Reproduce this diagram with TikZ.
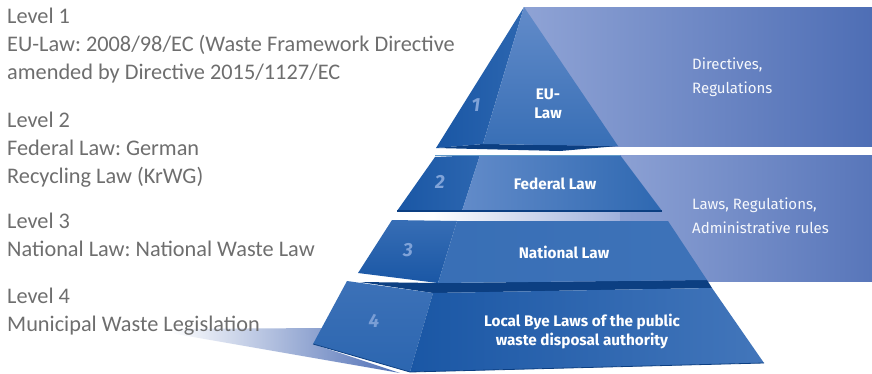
\documentclass[tikz,border=0pt]{standalone}
\usepackage{fontspec}
\setmainfont{Carlito}
\newfontfamily\tierfont{Fira Sans}
\usetikzlibrary{positioning}
\frenchspacing
\definecolor{textgray}{HTML}{6E6E6E}
\definecolor{panellight}{HTML}{8FA3D5}
\definecolor{paneldark}{HTML}{4E6EB5}
\definecolor{sidedark}{HTML}{1A57A5}
\definecolor{sidemid}{HTML}{2C66B0}
\definecolor{frontlight}{HTML}{628BC9}
\definecolor{frontdark}{HTML}{2E68B1}
\definecolor{bandblue}{HTML}{0C3F82}
\definecolor{numblue}{HTML}{80A3D8}
\def\tieroneside{(524,7) -- (436,148) -- (483,144) -- cycle}
\def\tieronefront{(524,7) -- (483,144) -- (618,146) -- cycle}
\def\tiertwoside{(435,157) -- (480,155) -- (462,211) -- (397,211) -- cycle}
\def\tiertwofront{(480,155) -- (620,155) -- (662,211) -- (462,211) -- cycle}
\def\tierthreeside{(392,220) -- (457,221) -- (438,283) -- (358,273) -- cycle}
\def\tierthreefront{(457,221) -- (668,221) -- (707,280) -- (438,283) -- cycle}
\def\tierfourside{(347,281) -- (433,293) -- (410,372) -- (313,344) -- cycle}
\def\tierfourfront{(433,293) -- (712,288) -- (764,363) -- (410,372) -- cycle}

\begin{document}
\begin{tikzpicture}[x=1pt,y=-1pt,
    leveltext/.style={anchor=base west,align=left,text=textgray,inner sep=0pt,
      font=\fontsize{22.3}{28}\selectfont},
    tierlabel/.style={text=white,align=center,inner sep=0pt,
      font=\tierfont\bfseries\fontsize{15.3}{19}\selectfont},
    levelnum/.style={text=numblue,inner sep=0pt,
      font=\tierfont\bfseries\itshape\fontsize{19}{19}\selectfont},
    paneltext/.style={anchor=west,align=left,text=white!92!panellight,inner sep=0pt,
      font=\tierfont\fontsize{15}{24}\selectfont}]
  \useasboundingbox (0,0) rectangle (872,373);

  %background panels
  \shade[left color=panellight,right color=paneldark] (524,7) rectangle (872,146);
  \shade[left color=white,right color=panellight!85!white] (433,155) rectangle (620,281);
  \shade[left color=panellight!95!paneldark,right color=paneldark!85!panellight] (620,155) rectangle (872,281);
  \shade[left color=white,right color=paneldark] (170,329) -- (323,328) -- (313,344) -- (400,373) -- (170,333) -- cycle;

  %tier 1
  \fill[bandblue] (436,148) -- (483,144) -- (618,146) -- (560,151) -- cycle;
  \shade[left color=sidedark,right color=sidemid] \tieroneside;
  \shade[top color=frontlight,bottom color=frontdark!80!frontlight] \tieronefront;

  %tier 2
  \shade[left color=sidedark,right color=sidemid] \tiertwoside;
  \shade[left color=frontlight,right color=frontdark] \tiertwofront;
  \draw[cyan!30!frontlight,line width=0.8pt] (435,155.5) -- (620,155.5);
  \draw[bandblue,line width=1.2pt] (397,211) -- (662,211);

  %tier 3
  \fill[bandblue] (360,282) -- (438,283) -- (707,280) -- (712,288) -- (433,293) -- cycle;
  \shade[top color=sidemid!80!frontlight,bottom color=sidedark] \tierthreeside;
  \shade[left color=frontdark!80!frontlight,right color=frontdark!70!frontlight] \tierthreefront;

  %tier 4
  \shade[top color=sidemid!70!frontlight,bottom color=sidemid] \tierfourside;
  \shade[left color=sidedark,right color=frontdark!60!frontlight] \tierfourfront;
  \draw[bandblue,line width=0.8pt] (313,344) -- (410,372) -- (764,363);

  %labels on the pyramid
  \node[tierlabel] (eulaw) at (548,104) {EU-\\Law};
  \node[tierlabel] (federal) at (555,184) {Federal Law};
  \node[tierlabel] (national) at (564,252) {National Law};
  \node[tierlabel] (local) at (582,331) {Local Bye Laws of the public\\waste disposal authority};
  \node[levelnum] (numone) at (476,105) {1};
  \node[levelnum] (numtwo) at (440,182) {2};
  \node[levelnum] (numthree) at (408,250) {3};
  \node[levelnum,text=numblue!80!frontlight] (numfour) at (374,321) {4};

  \node[paneltext] (directives) at (692,77) {Directives,\\Regulations};
  \node[paneltext] (laws) at (692,216) {Laws, Regulations,\\Administrative rules};

  %level descriptions (anchored at the last line)
  \node[leveltext] (lvlone) at (7,79) {Level 1\\EU-Law: 2008/98/EC (Waste Framework Directive\\amended by Directive 2015/1127/EC};
  \node[leveltext] (lvltwo) at (7,183) {Level 2\\Federal Law: German\\Recycling Law (KrWG)};
  \node[leveltext] (lvlthree) at (7,256) {Level 3\\National Law: National Waste Law};
  \node[leveltext] (lvlfour) at (7,331) {Level 4\\Municipal Waste Legislation};
\end{tikzpicture}
\end{document}
